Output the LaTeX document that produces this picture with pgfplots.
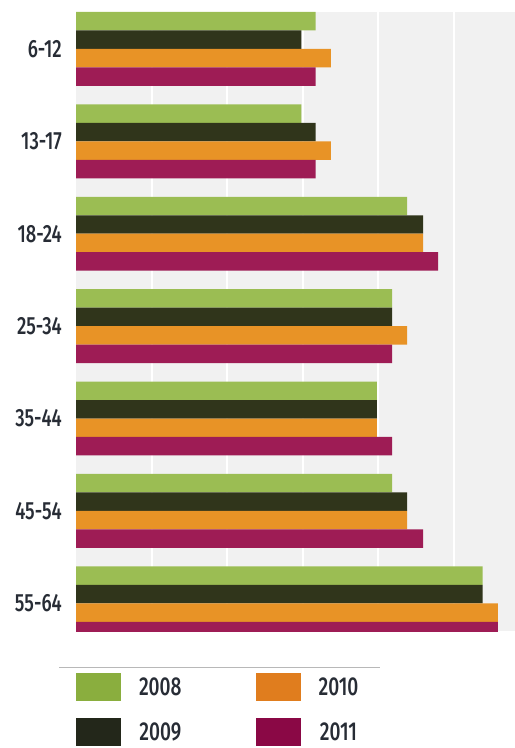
\documentclass[border=0pt]{standalone}
\usepackage{pgfplots}
\pgfplotsset{compat=1.18}
\usepackage{fontspec}
\setmainfont{Fira Sans Medium}[FakeStretch=0.74]
\definecolor{cG}{HTML}{9BBD53}
\definecolor{cK}{HTML}{30351B}
\definecolor{cO}{HTML}{E89326}
\definecolor{cM}{HTML}{9E1C55}
\definecolor{lG}{HTML}{8AAE3E}
\definecolor{lK}{HTML}{23271A}
\definecolor{lO}{HTML}{E07D1E}
\definecolor{lM}{HTML}{8A0845}
\definecolor{bgc}{HTML}{F1F1F1}
\definecolor{lbl}{HTML}{272C35}
\begin{document}
\begin{tikzpicture}[x=1bp,y=1bp]
\path[use as bounding box] (0,0) rectangle (515,748);
\clip (0,0) rectangle (515,748);
\begin{axis}[
  at={(76bp,117bp)}, anchor=south west,
  scale only axis, width=439bp, height=619bp,
  xbar, bar width=0.2,
  xmin=0, xmax=5.807, ymin=-0.4, ymax=6.3, y dir=reverse,
  ytick={0,...,6},
  yticklabels={6-12,13-17,18-24,25-34,35-44,45-54,55-64},
  xtick={1,2,3,4,5}, xticklabels={},
  xmajorgrids, grid style={white, line width=2bp},
  axis background/.style={fill=bgc},
  axis line style={draw=none}, major tick length=0pt,
  yticklabel style={font=\fontsize{25}{25}\selectfont, text=lbl, inner sep=0pt, xshift=-14bp},
  legend columns=2,
  legend style={transpose legend, at={(0,-0.068)}, anchor=north west, draw=none, fill=none,
    inner sep=0pt, outer sep=0pt, row sep=17bp,
    font=\fontsize{26}{26}\selectfont, text=lbl,
    nodes={inner sep=0pt, text depth=0pt},
    /tikz/every odd column/.append style={column sep=18bp},
    /tikz/every even column/.append style={column sep=74bp}},
  legend image code/.code={\path[#1] (0bp,-14bp) rectangle (45bp,14bp);},
]
\addplot[fill=cG, draw=none, bar shift=-0.3, legend image post style={fill=lG}] coordinates {(3.17,0) (2.98,1) (4.38,2) (4.18,3) (3.98,4) (4.18,5) (5.38,6)};
\addplot[fill=cK, draw=none, bar shift=-0.1, legend image post style={fill=lK}] coordinates {(2.98,0) (3.17,1) (4.59,2) (4.18,3) (3.98,4) (4.38,5) (5.38,6)};
\addplot[fill=cO, draw=none, bar shift=0.1, legend image post style={fill=lO}] coordinates {(3.37,0) (3.37,1) (4.59,2) (4.38,3) (3.98,4) (4.38,5) (5.58,6)};
\addplot[fill=cM, draw=none, bar shift=0.3, legend image post style={fill=lM}] coordinates {(3.17,0) (3.17,1) (4.79,2) (4.18,3) (4.18,4) (4.59,5) (5.58,6)};
\legend{2008,2009,2010,2011}
\end{axis}
\draw[black!28, line width=1bp] (59,80) -- (380,80);
\end{tikzpicture}
\end{document}
